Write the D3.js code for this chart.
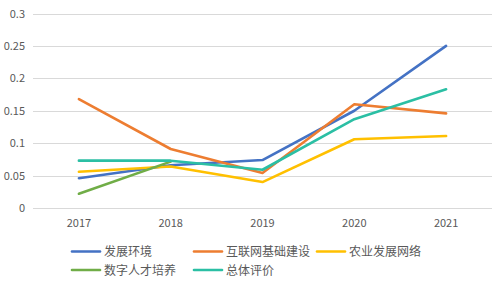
<!DOCTYPE html>
<html><head><meta charset="utf-8">
<script src="https://cdn.jsdelivr.net/npm/d3@7"></script>
<style>body{margin:0;background:#fff}svg{display:block}</style>
</head><body>
<svg id="c" width="493" height="281"></svg>
<script>
const years = ["2017","2018","2019","2020","2021"];
const yTicks = [0,0.05,0.1,0.15,0.2,0.25,0.3];
const seriesNames = ["发展环境","互联网基础建设","农业发展网络","数字人才培养","总体评价"];
const seriesColors = ["#4472C4","#ED7D31","#FFC000","#70AD47","#2BBFA4"];
const env = [0.046,0.066,0.074,0.150,0.250];
const infra = [0.168,0.091,0.054,0.160,0.146];
const agri = [0.056,0.064,0.040,0.106,0.111];
const talent = [0.022,0.0715,null,null,null];
const overall = [0.073,0.073,0.059,0.137,0.183];
const seriesValues = [env,infra,agri,talent,overall];

const svg = d3.select("#c");
const x = d3.scaleBand().domain(years).range([33,492]);
const y = d3.scaleLinear().domain([0,0.3]).range([208,13.5]);
const font = "'Microsoft YaHei','Noto Sans CJK SC','Liberation Sans',sans-serif";

svg.append("g").selectAll("line").data(yTicks).join("line")
  .attr("x1",33).attr("x2",492)
  .attr("y1",d=>Math.round(y(d))+0.5).attr("y2",d=>Math.round(y(d))+0.5)
  .attr("stroke","#D9D9D9").attr("stroke-width",1);

svg.append("g").selectAll("text").data(yTicks).join("text")
  .attr("x",25).attr("y",d=>y(d)+4)
  .attr("text-anchor","end").attr("fill","#595959")
  .style("font-family",font).style("font-size","11px")
  .text(d=>d3.format("")(d));

svg.append("g").selectAll("text").data(years).join("text")
  .attr("x",d=>x(d)+x.bandwidth()/2).attr("y",227)
  .attr("text-anchor","middle").attr("fill","#595959")
  .style("font-family",font).style("font-size","11px")
  .text(d=>d);

const line = d3.line()
  .defined(d=>d.v!=null)
  .x(d=>x(d.k)+x.bandwidth()/2).y(d=>y(d.v));

seriesValues.forEach((vals,i)=>{
  svg.append("path")
    .datum(vals.map((v,j)=>({k:years[j],v})))
    .attr("d",line).attr("fill","none")
    .attr("stroke",seriesColors[i]).attr("stroke-width",2.6)
    .attr("stroke-linejoin","round").attr("stroke-linecap","round");
});

const legPos = [[72,251.5],[194,251.5],[317,251.5],[72,270],[194,270]];
seriesNames.forEach((n,i)=>{
  const [lx,ly] = legPos[i];
  svg.append("line").attr("x1",lx).attr("x2",lx+28).attr("y1",ly).attr("y2",ly)
    .attr("stroke",seriesColors[i]).attr("stroke-width",2.6).attr("stroke-linecap","round");
  svg.append("text").attr("x",lx+32).attr("y",ly+4.5)
    .attr("fill","#595959").style("font-family",font).style("font-size","12px")
    .text(n);
});
</script>
</body></html>
